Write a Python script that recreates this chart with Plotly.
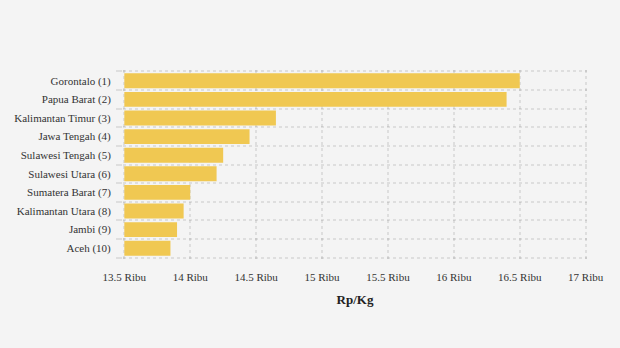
import plotly.graph_objects as go

provinces = ["Gorontalo (1)", "Papua Barat (2)", "Kalimantan Timur (3)", "Jawa Tengah (4)",
             "Sulawesi Tengah (5)", "Sulawesi Utara (6)", "Sumatera Barat (7)",
             "Kalimantan Utara (8)", "Jambi (9)", "Aceh (10)"]
prices = [16500, 16400, 14650, 14450, 14250, 14200, 14000, 13950, 13900, 13850]
axis_min = 13500
axis_max = 17000
tick_values = [13500, 14000, 14500, 15000, 15500, 16000, 16500, 17000]
tick_labels = ["13.5 Ribu", "14 Ribu", "14.5 Ribu", "15 Ribu", "15.5 Ribu",
               "16 Ribu", "16.5 Ribu", "17 Ribu"]

positions = list(range(len(provinces)))
boundaries = [p - 0.5 for p in positions] + [positions[-1] + 0.5]

fig = go.Figure(go.Bar(
    x=[p - axis_min for p in prices], y=positions, orientation="h",
    base=axis_min,
    marker=dict(color="#f0c852", line=dict(width=0)),
    hovertext=provinces,
))

font_family = "Liberation Serif"
grid_col = "rgba(0,0,0,0.09)"
fig.update_layout(
    width=620, height=348,
    margin=dict(l=123, r=33, t=69.5, b=88.5),
    paper_bgcolor="#f4f4f4", plot_bgcolor="#f4f4f4",
    font=dict(family=font_family, size=11, color="#333333"),
    bargap=0.2,
    showlegend=False,
    xaxis=dict(
        range=[axis_min - 10, axis_max + 10],
        tickvals=tick_values, ticktext=tick_labels,
        showgrid=True, gridcolor=grid_col, gridwidth=2, griddash="dot",
        zeroline=False, showline=False, layer="above traces",
        ticks="outside", ticklen=8, tickcolor="rgba(0,0,0,0)",
        tickfont=dict(family=font_family, size=11, color="#333333"),
        title=dict(text="<b>Rp/Kg</b>", font=dict(family=font_family, size=13, color="#222222"),
                   standoff=12),
    ),
    yaxis=dict(
        range=[len(provinces) - 0.42, -0.58],
        tickvals=positions, ticktext=provinces,
        showgrid=False,
        zeroline=False, showline=False, layer="above traces",
        ticks="outside", ticklen=9, tickcolor="rgba(0,0,0,0)",
        tickfont=dict(family=font_family, size=11, color="#333333"),
        minor=dict(tickvals=boundaries, showgrid=True, gridcolor=grid_col, gridwidth=2,
                   griddash="dot", ticks="outside", ticklen=6, tickcolor=grid_col, tickwidth=2),
    ),
)

fig.write_html("out.html")
